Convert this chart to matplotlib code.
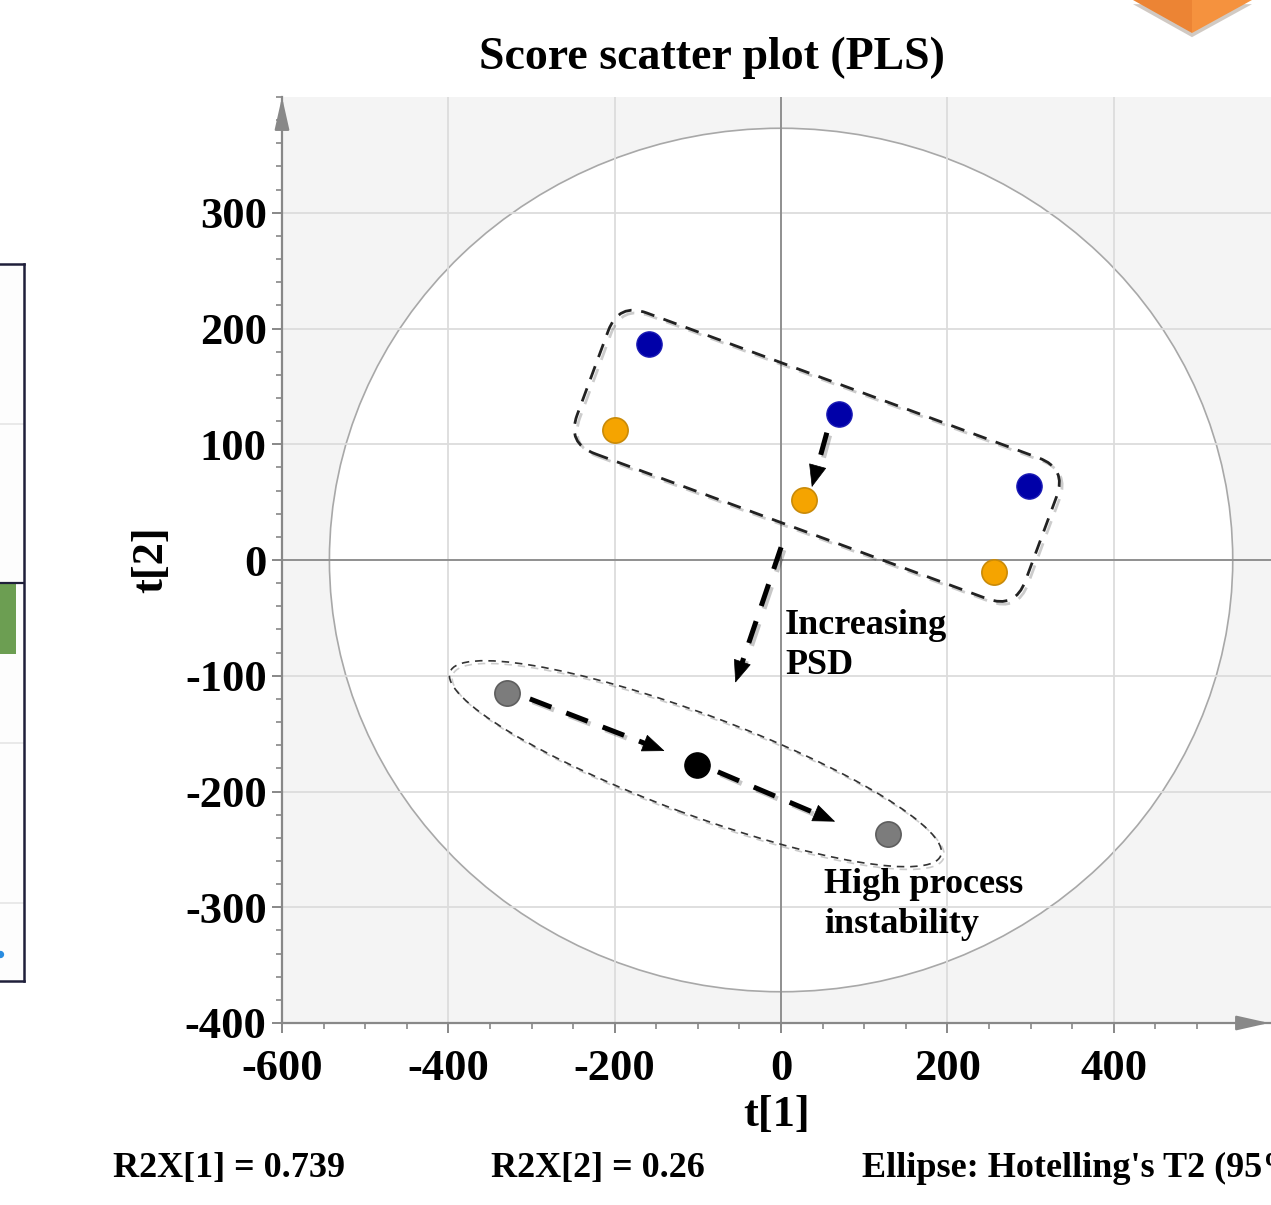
import numpy as np
import matplotlib
matplotlib.use("Agg")
import matplotlib.pyplot as plt
import matplotlib.patheffects as pe
from matplotlib.patches import Ellipse, FancyBboxPatch, Polygon
from matplotlib.transforms import Affine2D
from matplotlib.ticker import MultipleLocator

plt.rcParams["axes.unicode_minus"] = False

# ---- scores ----
blue_t1 = [-159, 70, 298]
blue_t2 = [187, 126, 64]
orange_t1 = [-200, 28, 256]
orange_t2 = [112, 52, -10]
gray_t1 = [-329, 128]
gray_t2 = [-115, -237]
black_t1 = [-101]
black_t2 = [-177]

xticks = [-600, -400, -200, 0, 200, 400]
yticks = [-400, -300, -200, -100, 0, 100, 200, 300]
hotelling_a, hotelling_b = 543, 373   # semi axes of the T2 ellipse

footer = ["R2X[1] = 0.739", "R2X[2] = 0.26", "Ellipse: Hotelling's T2 (95%)"]

# neighbour panel that is cut off on the left
left_bar = [-0.44]

FONT = "Liberation Serif"
W, H = 1271, 1205

fig = plt.figure(figsize=(W / 100, H / 100), dpi=100)
fig.patch.set_facecolor("white")

# ---------------- main score plot ----------------
ax = fig.add_axes([282 / W, 1 - 1023 / H, (W - 282) / W, 926 / H])
ax.set_xlim(-600, 589)
ax.set_ylim(-400, 400)
ax.set_facecolor("#f4f4f4")

ax.add_patch(Ellipse((0, 0), 2 * hotelling_a, 2 * hotelling_b, facecolor="white",
                     edgecolor="#a8a8a8", lw=1.2, zorder=0.2))
ax.set_axisbelow(True)
ax.grid(True, which="major", color="#dcdcdc", lw=1.3)
ax.axhline(0, color="#8a8a8a", lw=1.3, zorder=0.6)
ax.axvline(0, color="#8a8a8a", lw=1.3, zorder=0.6)

ax.set_xticks(xticks)
ax.set_yticks(yticks)
ax.xaxis.set_minor_locator(MultipleLocator(50))
ax.yaxis.set_minor_locator(MultipleLocator(20))
ax.tick_params(which="major", length=7, width=1.4, color="#888888", pad=4)
ax.tick_params(axis="x", which="major", pad=12)
ax.tick_params(which="minor", length=4, width=1.2, color="#888888")
for lab in ax.get_xticklabels() + ax.get_yticklabels():
    lab.set_fontfamily(FONT)
    lab.set_fontweight("bold")
    lab.set_fontsize(32)
for s in ["top", "right"]:
    ax.spines[s].set_visible(False)
for s in ["left", "bottom"]:
    ax.spines[s].set_color("#888888")
    ax.spines[s].set_linewidth(1.6)

# axis arrow heads
ax.annotate("", xy=(0, 1), xycoords="axes fraction", xytext=(0, 0.965),
            arrowprops=dict(arrowstyle="-|>,head_length=2.0,head_width=0.45",
                            color="#888888", lw=1.6, shrinkA=0, shrinkB=0),
            annotation_clip=False)
ax.annotate("", xy=(0.998, 0), xycoords="axes fraction", xytext=(0.97, 0),
            arrowprops=dict(arrowstyle="-|>,head_length=2.0,head_width=0.45",
                            color="#888888", lw=1.6, shrinkA=0, shrinkB=0),
            annotation_clip=False)

ax.set_xlabel("t[1]", fontfamily=FONT, fontweight="bold", fontsize=32, labelpad=4)
ax.set_ylabel("t[2]", fontfamily=FONT, fontweight="bold", fontsize=32, labelpad=10)
ax.set_title("Score scatter plot (PLS)", fontfamily=FONT, fontweight="bold",
             fontsize=33, pad=20, x=0.435)

# points
ms = 330
ax.scatter(blue_t1, blue_t2, s=ms, color="#0000a8", edgecolor="#1a1ab5", lw=1, zorder=5)
ax.scatter(orange_t1, orange_t2, s=ms, color="#f5a400", edgecolor="#c98a08", lw=1.2, zorder=5)
ax.scatter(gray_t1, gray_t2, s=ms, color="#7c7c7c", edgecolor="#5e5e5e", lw=1.2, zorder=5)
ax.scatter(black_t1, black_t2, s=ms, color="black", zorder=5)

shadow = [pe.SimpleLineShadow(offset=(2, -2), alpha=0.22), pe.Normal()]


def dashed_arrow(p0, p1):
    d0 = ax.transData.transform(p0)
    d1 = ax.transData.transform(p1)
    u = (d1 - d0) / np.hypot(*(d1 - d0))
    ph = ax.transData.inverted().transform(d1 - u * 20)
    ax.plot([p0[0], ph[0]], [p0[1], ph[1]], color="black", lw=3.6,
            ls=(0, (4.6, 3.2)), dash_capstyle="butt", zorder=6, path_effects=shadow)
    ax.annotate("", xy=p1, xytext=ph,
                arrowprops=dict(arrowstyle="-|>,head_length=1.5,head_width=0.6",
                                color="black", lw=0.5, shrinkA=0, shrinkB=0), zorder=6)


dashed_arrow((55, 110), (37, 63))
dashed_arrow((0, 11), (-55, -106))
dashed_arrow((-302, -120), (-140, -165))
dashed_arrow((-76, -183), (65, -226))

# dashed group outlines (drawn in pixel space so the rotation is not skewed)
cx, cy = ax.transData.transform((43, 90))
box = FancyBboxPatch((-239, -75), 478, 150, boxstyle="round,pad=0,rounding_size=30",
                     facecolor="none", edgecolor="#222222", lw=2.0, ls=(0, (5, 3.5)),
                     transform=Affine2D().rotate_deg(-20.3).translate(cx, cy), zorder=4,
                     path_effects=[pe.SimpleLineShadow(offset=(2, -2), alpha=0.2), pe.Normal()])
fig.add_artist(box)

ex, ey = ax.transData.transform((-103, -176))
grp = Ellipse((0, 0), 524, 100, angle=-20.5, facecolor="none", edgecolor="#333333",
              lw=1.2, ls=(0, (4.5, 3.5)),
              transform=Affine2D().translate(ex, ey), zorder=4,
              path_effects=[pe.SimpleLineShadow(offset=(2, -2), alpha=0.2), pe.Normal()])
fig.add_artist(grp)

ax.text(5, -42, "Increasing\nPSD", fontfamily=FONT, fontweight="bold", fontsize=26,
        ha="left", va="top", linespacing=1.3, zorder=7)
ax.text(52, -266, "High process\ninstability", fontfamily=FONT, fontweight="bold",
        fontsize=26, ha="left", va="top", linespacing=1.3, zorder=7)

# footer
for txt, xp in zip(footer, [113, 491, 862]):
    fig.text(xp / W, 1 - 1168 / H, txt, fontfamily=FONT, fontweight="bold",
             fontsize=26, ha="left", va="center")

# ---------------- cut-off neighbour panel ----------------
ax2 = fig.add_axes([-127 / W, 1 - 981 / H, 151 / W, 717 / H])
ax2.set_xlim(0, 1)
ax2.set_ylim(-2.49, 2.0)
ax2.set_facecolor("#fdfdfd")
ax2.set_yticks([-2, -1, 0, 1])
ax2.grid(True, axis="y", color="#e6e6e6", lw=1.2)
ax2.set_axisbelow(True)
ax2.bar([0.75], left_bar, width=0.394, color="#6c9e52", zorder=2)
ax2.axhline(0, color="#1f1f3a", lw=1.6, zorder=3)
ax2.scatter([0.84], [-2.32], s=18, color="#2a8ce0", zorder=3)
ax2.set_xticks([])
ax2.tick_params(left=False, labelleft=False)
for s in ax2.spines.values():
    s.set_color("#1f1f3a")
    s.set_linewidth(1.8)

# orange corner decoration at the top right
fig.add_artist(Polygon([[1133, H], [1192, H - 33], [1192, H]], closed=True,
                       facecolor="#ec8434", edgecolor="none", transform=None,
                       path_effects=[pe.SimplePatchShadow(offset=(0, -3), alpha=0.25), pe.Normal()]))
fig.add_artist(Polygon([[1192, H], [1192, H - 33], [1252, H]], closed=True,
                       facecolor="#f5923e", edgecolor="none", transform=None,
                       path_effects=[pe.SimplePatchShadow(offset=(0, -3), alpha=0.25), pe.Normal()]))

fig.savefig("out.png", dpi=100)
